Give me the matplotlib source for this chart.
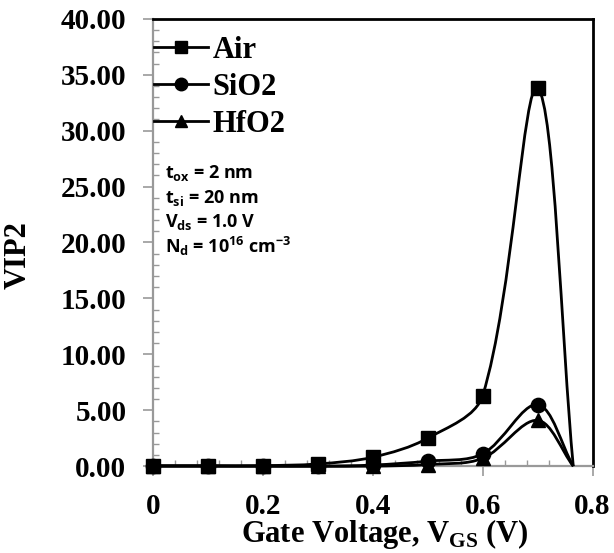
import numpy as np
import matplotlib
matplotlib.use("Agg")
import matplotlib.pyplot as plt
from matplotlib.path import Path
from matplotlib.patches import PathPatch
from matplotlib.lines import Line2D
from matplotlib.ticker import MultipleLocator

plt.rcParams["mathtext.fontset"] = "custom"
plt.rcParams["mathtext.bf"] = "Liberation Serif:bold"

# === Data ===
vgs = [0.0, 0.1, 0.2, 0.3, 0.4, 0.5, 0.6, 0.7]
vgs_end = 0.765  # curves drop to zero here (no marker)
air = [0.05, 0.05, 0.05, 0.2, 0.8, 2.5, 6.3, 33.8]
sio2 = [0.0, 0.0, 0.0, 0.0, 0.1, 0.45, 1.1, 5.5]
hfo2 = [0.0, 0.0, 0.0, 0.0, 0.0, 0.15, 0.7, 4.1]
end_value = 0.0

series = [("Air", air, "s"), ("SiO2", sio2, "o"), ("HfO2", hfo2, "^")]

serif = "Liberation Serif"
sans = "Open Sans"


def smooth_path(ax, xs, ys):
    # Excel-like smoothed line, control points worked out in screen space
    p = ax.transData.transform(np.column_stack([xs, ys]))
    n = len(p)
    c_in = [None] * n
    c_out = [None] * n
    for i in range(n):
        prev = p[i - 1] if i > 0 else p[i]
        nxt = p[i + 1] if i < n - 1 else p[i]
        t = nxt - prev
        d_prev = np.hypot(*(p[i] - prev))
        d_next = np.hypot(*(nxt - p[i]))
        tot = d_prev + d_next
        c_out[i] = p[i] + t * d_next / tot / 3.0
        c_in[i] = p[i] - t * d_prev / tot / 3.0
    verts = [p[0]]
    codes = [Path.MOVETO]
    for i in range(n - 1):
        verts += [c_out[i], c_in[i + 1], p[i + 1]]
        codes += [Path.CURVE4] * 3
    verts = ax.transData.inverted().transform(np.array(verts))
    return Path(verts, codes)


fig = plt.figure(figsize=(6.14, 5.53), dpi=100)
ax = fig.add_axes([0.249, 0.157, 0.716, 0.809])
ax.set_xlim(0, 0.8)
ax.set_ylim(0, 40)

handles = []
for name, vals, mk in series:
    path = smooth_path(ax, vgs + [vgs_end], vals + [end_value])
    ax.add_patch(PathPatch(path, facecolor="none", edgecolor="black",
                           lw=2.0, zorder=3, clip_on=False))
    ax.plot(vgs, vals, ls="none", marker=mk, color="black",
            markersize=10.3 if mk != "^" else 10.5, zorder=4, clip_on=False)
    handles.append(Line2D([], [], color="black", lw=2.0, marker=mk,
                          markersize=9, label=name))

ax.xaxis.set_minor_locator(MultipleLocator(0.04))
ax.yaxis.set_minor_locator(MultipleLocator(1))
yt = np.arange(0, 41, 5)
ax.set_yticks(yt)
ax.set_yticklabels([f"{v:.2f}" for v in yt])
ax.set_xticks([0, 0.2, 0.4, 0.6, 0.8])
ax.set_xticklabels(["0", "0.2", "0.4", "0.6", "0.8"])

for lab in ax.get_xticklabels() + ax.get_yticklabels():
    lab.set_fontfamily(serif)
    lab.set_fontweight("bold")
    lab.set_fontsize(21)

ax.tick_params(which="major", direction="out", length=7, width=1.2,
               color="#999999")
ax.tick_params(axis="y", which="major", pad=12)
ax.tick_params(axis="x", which="major", pad=12)
ax.tick_params(which="minor", direction="in", length=4, width=1.0,
               color="#999999")

for side in ["left", "bottom"]:
    ax.spines[side].set_color("#999999")
    ax.spines[side].set_linewidth(1.6)
for side in ["top", "right"]:
    ax.spines[side].set_color("black")
    ax.spines[side].set_linewidth(2.0)

ax.set_ylabel("VIP2", fontfamily=serif, fontweight="bold", fontsize=22)
ax.yaxis.set_label_coords(-0.273, 0.472)
ax.set_xlabel(r"Gate Voltage, V$_{\mathbf{GS}}$ (V)", fontfamily=serif,
              fontweight="bold", fontsize=22)
ax.xaxis.set_label_coords(0.527, -0.114)

leg = ax.legend(handles=handles, loc="upper left", frameon=False,
                prop={"family": serif, "weight": "bold", "size": 22},
                handlelength=1.75, handletextpad=0.15, labelspacing=0.26,
                borderpad=0.0, borderaxespad=0.0,
                bbox_to_anchor=(0.003, 0.962))

notes = [r"t$_{\mathregular{ox}}$ = 2 nm",
         r"t$_{\mathregular{si}}$ = 20 nm",
         r"V$_{\mathregular{ds}}$ = 1.0 V",
         r"N$_{\mathregular{d}}$ = 10$^{\mathregular{16}}$ cm$^{\mathregular{-3}}$"]
for i, txt in enumerate(notes):
    ax.text(0.027, 0.655 - i * 0.0548, txt, transform=ax.transAxes,
            fontfamily=sans, fontweight="bold", fontsize=13, va="center")

fig.savefig("out.png", dpi=100)
